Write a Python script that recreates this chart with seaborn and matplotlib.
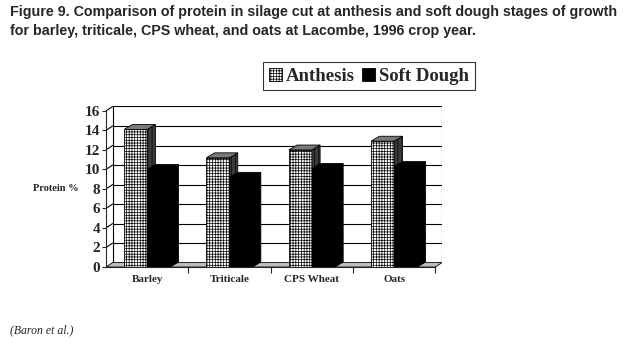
import matplotlib
matplotlib.use("Agg")
import matplotlib.pyplot as plt
import seaborn as sns
import pandas as pd
from matplotlib.patches import Polygon, Patch

crops = ["Barley", "Triticale", "CPS Wheat", "Oats"]
stages = ["Anthesis", "Soft Dough"]
anthesis = [14.1, 11.2, 12.0, 12.9]
soft_dough = [10.0, 9.2, 10.1, 10.3]
yticks = list(range(0, 17, 2))

df = pd.DataFrame({
    "Crop": crops * 2,
    "Stage": [stages[0]] * len(crops) + [stages[1]] * len(crops),
    "Protein": anthesis + soft_dough,
})

sns.set_style("white")
plt.rcParams["font.family"] = ["Liberation Serif", "DejaVu Serif"]
plt.rcParams["hatch.linewidth"] = 0.5

W, H = 635, 345
fig = plt.figure(figsize=(W / 100, H / 100), dpi=100)
WDX, WDY = 0.08, 0.45    # wall / floor depth
BDX, BDY = 0.1, 0.5      # bar depth
YMAX = 16
ax = fig.add_axes([106 / W, 1 - 267 / H, (442 - 106) / W, (267 - 106) / H])

sns.barplot(data=df, x="Crop", y="Protein", hue="Stage", order=crops,
            hue_order=stages, palette=["white", "black"], saturation=1,
            width=0.56, gap=0, ax=ax, legend=False, errorbar=None,
            edgecolor="black", linewidth=0.6)

xmin, xmax = -0.5, len(crops) - 0.5
ax.set_xlim(xmin, xmax + WDX)
ax.set_ylim(0, YMAX + max(WDY, BDY))

# floor and back wall
floor = Polygon([(xmin, 0), (xmax, 0), (xmax + WDX, WDY), (xmin + WDX, WDY)],
                closed=True, facecolor="#c0c0c0", edgecolor="black", lw=0.6, zorder=0.5)
ax.add_patch(floor)
for v in yticks[1:]:
    ax.plot([xmin, xmin + WDX], [v, v + WDY], color="black", lw=0.8, zorder=0.4)
    ax.plot([xmin + WDX, xmax + WDX], [v + WDY, v + WDY], color="black", lw=0.8, zorder=0.4)
ax.plot([xmin + WDX, xmin + WDX], [WDY, YMAX + WDY], color="black", lw=0.8, zorder=0.4)
ax.plot([xmax + WDX, xmax + WDX], [WDY, YMAX + WDY], color="#555555", lw=0.8, zorder=0.4)

# 3D faces for bars
bars = [p for p in ax.patches if p is not floor]
bars.sort(key=lambda p: p.get_x())
z = 2
for p in bars:
    x0, w, h = p.get_x(), p.get_width(), p.get_height()
    is_black = p.get_facecolor()[0] < 0.5
    p.set_zorder(z)
    if not is_black:
        p.set_hatch("++++++")
        p.set_edgecolor("black")
    side = Polygon([(x0 + w, 0), (x0 + w + BDX, BDY), (x0 + w + BDX, h + BDY), (x0 + w, h)],
                   closed=True, facecolor="black" if is_black else "#3a3a3a",
                   edgecolor="black", lw=0.6, zorder=z + 0.1,
                   hatch=None if is_black else "||||")
    top = Polygon([(x0, h), (x0 + BDX, h + BDY), (x0 + w + BDX, h + BDY), (x0 + w, h)],
                  closed=True, facecolor="black" if is_black else "#7a7a7a",
                  edgecolor="black", lw=0.6, zorder=z + 0.2)
    ax.add_patch(side)
    ax.add_patch(top)
    z += 1

# axes styling
for s in ["top", "right"]:
    ax.spines[s].set_visible(False)
ax.spines["left"].set_bounds(0, YMAX)
ax.spines["bottom"].set_bounds(xmin, xmax)
ax.spines["left"].set_linewidth(0.8)
ax.spines["bottom"].set_linewidth(0.8)
ax.set_yticks(yticks)
ax.set_yticklabels([str(t) for t in yticks], fontsize=11, fontweight="bold")
ax.tick_params(axis="y", direction="out", length=3, width=0.8, pad=1, left=True)
ax.set_xticks(range(len(crops)))
ax.set_xticklabels(crops, fontsize=8, fontweight="bold")
ax.tick_params(axis="x", length=0, pad=6)
ax.set_xticks([i + 0.5 for i in range(len(crops))], minor=True)
ax.tick_params(axis="x", which="minor", direction="out", length=4, width=0.8, bottom=True)
ax.set_xlabel("")
ax.set_ylabel("")
ax.grid(False)

fig.text(33 / W, 1 - 189 / H, "Protein %", fontsize=7.5, fontweight="bold", va="center", ha="left")

# legend
handles = [Patch(facecolor="white", edgecolor="black", hatch="++++++", lw=0.6),
           Patch(facecolor="black", edgecolor="black", lw=0.6)]
leg = fig.legend(handles, stages, loc="upper left", bbox_to_anchor=(263 / W, 1 - 62 / H),
                 ncol=2, frameon=True, fancybox=False, edgecolor="black",
                 prop={"family": "Liberation Serif", "weight": "bold", "size": 13.5},
                 handlelength=0.7, handleheight=0.7, handletextpad=0.2,
                 columnspacing=0.4, borderpad=0.3, borderaxespad=0)
leg.get_frame().set_linewidth(0.8)

# title and source
title_font = ["Liberation Sans", "DejaVu Sans"]
fig.text(10 / W, 1 - 5 / H,
         "Figure 9. Comparison of protein in silage cut at anthesis and soft dough stages of growth\n"
         "for barley, triticale, CPS wheat, and oats at Lacombe, 1996 crop year.",
         fontsize=10.3, fontweight="bold", family=title_font, va="top", ha="left",
         linespacing=1.45)
fig.text(10 / W, 1 - 330 / H, "(Baron et al.)", fontsize=8.5, style="italic",
         va="center", ha="left")

fig.savefig("out.png", dpi=100)
